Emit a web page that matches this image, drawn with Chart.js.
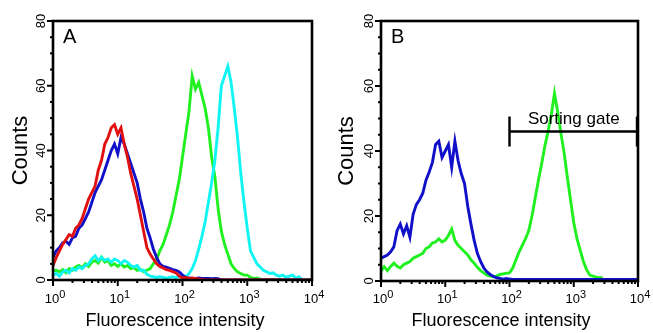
<!DOCTYPE html>
<html>
<head>
<meta charset="utf-8">
<script src="https://cdn.jsdelivr.net/npm/chart.js@4.4.0/dist/chart.umd.min.js"></script>
<style>
  body { margin: 0; background: #fff; }
  #wrap { position: relative; width: 653px; height: 333px; }
  canvas { position: absolute; top: 0; }
</style>
</head>
<body>
<div id="wrap">
  <canvas id="chartA" width="326" height="333" style="left:0"></canvas>
  <canvas id="chartB" width="327" height="333" style="left:326px"></canvas>
</div>
<script>
// channel position = log10(fluorescence intensity)
const channels = [
  0, 0.05, 0.1, 0.15, 0.2, 0.25, 0.3, 0.35, 0.4, 0.45,
  0.5, 0.55, 0.6, 0.65, 0.7, 0.75, 0.8, 0.85, 0.9, 0.95,
  1, 1.05, 1.1, 1.15, 1.2, 1.25, 1.3, 1.35, 1.4, 1.45,
  1.5, 1.55, 1.6, 1.65, 1.7, 1.75, 1.8, 1.85, 1.9, 1.95,
  2, 2.05, 2.1, 2.15, 2.2, 2.25, 2.3, 2.35, 2.4, 2.45,
  2.5, 2.55, 2.6, 2.65, 2.7, 2.75, 2.8, 2.85, 2.9, 2.95,
  3, 3.05, 3.1, 3.15, 3.2, 3.25, 3.3, 3.35, 3.4, 3.45,
  3.5, 3.55, 3.6, 3.65, 3.7, 3.75, 3.8, 3.85, 3.9, 3.95,
  4
]

// panel A
const redA = [
  4.5, 7, 9, 11, 12.5, 14, 13.5, 16, 17, 19,
  22, 25, 27, 29, 34, 37, 42, 44, 47, 48,
  45, 47, 42, 38, 33, 29, 25, 20, 15, 10,
  8, 6.5, 5, 4.2, 3.7, 3.2, 3, 2.6, 2.2, 1.2,
  0.6, 0.8, 0.5, 0.6, 0.5, 0.3, 0.2, 0, 0, 0,
  0, 0, 0, 0, 0, 0, 0, 0, 0, 0,
  0, 0, 0, 0, 0, 0, 0, 0, 0, 0,
  0, 0, 0, 0, 0, 0, 0, 0, 0, 0,
  0
]
const blueA = [
  7, 9, 10, 11.5, 12, 11, 13, 13.5, 16, 17,
  19, 21, 24, 27, 29, 31, 34, 37, 40, 42,
  39, 44, 42, 39, 36, 33, 30, 25, 21, 16,
  13, 9.5, 7, 5, 4.2, 4, 3.6, 3.2, 3, 2.5,
  1.5, 0.8, 0.6, 0.5, 0.5, 0.6, 0.5, 0.5, 0.5, 0.4,
  0.5, 0.4, 0, 0, 0, 0, 0, 0, 0, 0,
  0, 0, 0, 0, 0, 0, 0, 0, 0, 0,
  0, 0, 0, 0, 0, 0, 0, 0, 0, 0,
  0
]
const greenA = [
  2.8, 3, 2.5, 3.2, 2.2, 3.5, 3, 4, 4.5, 3.8,
  5, 4.2, 5.5, 6, 5.2, 7, 5.5, 6, 4.5, 5,
  4.2, 5, 4, 4.5, 3.5, 3.8, 3, 3.3, 2.5, 3,
  3.5, 5, 6.5, 9, 11, 14, 17, 21, 26, 31,
  38, 45, 52, 63, 59, 61, 57, 53, 47, 38,
  32, 22, 15, 11, 8, 5, 3.5, 2.5, 2, 1.5,
  1.5, 0.8, 0.5, 0.6, 0.3, 0, 0, 0, 0, 0,
  0, 0, 0, 0, 0, 0, 0, 0, 0, 0,
  0
]
const cyanA = [
  1.5, 2, 1.2, 2.5, 3, 2.2, 3.5, 3, 4, 3.5,
  4.5, 5, 6.5, 7.5, 6, 7, 6, 6.5, 5.5, 6.5,
  6, 5, 6, 5.5, 4.5, 4, 4.5, 3, 3, 1.8,
  1.2, 1, 0.8, 1, 0.8, 0.6, 0.8, 1, 0.7, 1,
  1.5, 1, 2, 3.5, 6, 9.5, 13.5, 18, 24, 30,
  37, 47, 60, 63, 66, 61, 53, 44, 33, 24,
  16, 9, 7, 5, 4, 3, 2.5, 2, 2.2, 1.5,
  1.2, 1.5, 0.8, 1.2, 1.5, 0.5, 1, 0, 0, 0,
  0
]

// panel B
const blueB = [
  7, 7.5, 8, 9, 10.5, 15.5, 17.5, 14.5, 17, 13.5,
  20.5, 23.5, 25, 27, 31, 33.5, 36.5, 42, 43, 38,
  40, 42, 35, 43, 37, 33, 30, 23, 17.5, 12.5,
  8.5, 6, 4, 2.8, 2, 1.4, 1, 0.8, 0.6, 0.8,
  0.6, 0.5, 0.5, 0.5, 0.5, 0.5, 0.5, 0.5, 0.5, 0.5,
  0.5, 0.5, 0.5, 0.5, 0.5, 0.5, 0.5, 0.5, 0.5, 0.5,
  0.5, 0.5, 0.5, 0.5, 0.5, 0.5, 0.5, 0.5, 0.5, 0.5,
  0.5, 0.5, 0.5, 0.5, 0.5, 0.5, 0.5, 0.5, 0.5, 0.5,
  0.5
]
const greenB = [
  3, 4.4, 3.2, 4.5, 5.5, 4.5, 4, 5, 5.5, 6,
  7, 7.5, 8, 8.5, 10, 10.5, 11.7, 12, 13, 12,
  12.6, 14, 16, 12.5, 11, 10, 9, 8, 6.5, 5.5,
  4.2, 3.2, 2.5, 1.8, 1.5, 1.3, 1.5, 2, 2.2, 2.4,
  2.5, 4, 6.5, 9, 11, 13, 15.5, 20, 25.5, 31,
  36, 41.5, 46, 51, 57.7, 52, 45.5, 39.5, 32, 25,
  18, 13, 9.5, 6, 3.5, 1.8, 1.5, 1.2, 1, 1,
  null, null, null, null, null, null, null, null, null, null,
  null
]

const yMajor = [0, 20, 40, 60, 80]
const decades = [0, 1, 2, 3, 4]
const gateFrom = 2, gateTo = 4, gateLevel = 46

const FONT = "'Liberation Sans', Arial, Helvetica, sans-serif"

function pts(arr) {
  return channels.map((c, i) => ({ x: c, y: arr[i] }))
}

function line(arr, color) {
  return {
    data: pts(arr),
    borderColor: color,
    borderWidth: 2.9,
    pointRadius: 0,
    tension: 0,
    spanGaps: false
  }
}

function framePlugin(letter, withGate) {
  return {
    id: 'frame' + letter,
    afterDatasetsDraw(chart) {
      let ctx = chart.ctx
      let a = chart.chartArea
      let x = chart.scales.x
      let y = chart.scales.y
      ctx.save()
      ctx.strokeStyle = '#000'
      ctx.fillStyle = '#000'

      // box
      ctx.lineWidth = 2.6
      ctx.strokeRect(a.left, a.top, a.right - a.left, a.bottom - a.top)

      // y ticks: major every 20, minor every 5
      ctx.lineWidth = 2
      for (let v = 0; v <= 80; v += 5) {
        let py = y.getPixelForValue(v)
        let len = v % 20 === 0 ? 6 : 3
        ctx.beginPath()
        ctx.moveTo(a.left, py)
        ctx.lineTo(a.left - len, py)
        ctx.stroke()
      }
      // x ticks: decades + log minor ticks
      for (let d = 0; d < decades.length; d++) {
        let px = x.getPixelForValue(decades[d])
        ctx.beginPath()
        ctx.moveTo(px, a.bottom)
        ctx.lineTo(px, a.bottom + 6)
        ctx.stroke()
        if (d < decades.length - 1) {
          for (let k = 2; k <= 9; k++) {
            let mx = x.getPixelForValue(decades[d] + Math.log10(k))
            ctx.beginPath()
            ctx.moveTo(mx, a.bottom)
            ctx.lineTo(mx, a.bottom + 3)
            ctx.stroke()
          }
        }
      }

      // y tick labels (rotated)
      ctx.font = '13px ' + FONT
      ctx.textAlign = 'center'
      ctx.textBaseline = 'alphabetic'
      yMajor.forEach(v => {
        ctx.save()
        ctx.translate(a.left - 8, y.getPixelForValue(v))
        ctx.rotate(-Math.PI / 2)
        ctx.fillText(String(v), 0, 0)
        ctx.restore()
      })

      // x tick labels 10^n
      decades.forEach(d => {
        let px = x.getPixelForValue(d)
        ctx.font = '13px ' + FONT
        let w1 = ctx.measureText('10').width
        ctx.font = '11px ' + FONT
        let w2 = ctx.measureText(String(d)).width
        let start = px - (w1 + w2) / 2 + 2
        ctx.textAlign = 'left'
        ctx.font = '13px ' + FONT
        ctx.fillText('10', start, 303)
        ctx.font = '11px ' + FONT
        ctx.fillText(String(d), start + w1, 298)
      })

      // axis titles
      ctx.font = '22px ' + FONT
      ctx.textAlign = 'center'
      ctx.textBaseline = 'middle'
      ctx.save()
      ctx.translate(20.5, (a.top + a.bottom) / 2)
      ctx.rotate(-Math.PI / 2)
      ctx.fillText('Counts', 0, 0)
      ctx.restore()

      ctx.textBaseline = 'alphabetic'
      ctx.font = '18px ' + FONT
      ctx.fillText('Fluorescence intensity', 175, 326)

      // panel letter
      ctx.textAlign = 'left'
      ctx.font = '20px ' + FONT
      ctx.fillText(letter, a.left + 10, 43)

      if (withGate) {
        let gx1 = x.getPixelForValue(gateFrom)
        let gx2 = x.getPixelForValue(gateTo) - 1
        let gy = y.getPixelForValue(gateLevel)
        ctx.lineWidth = 2.4
        ctx.beginPath()
        ctx.moveTo(gx1, gy)
        ctx.lineTo(gx2, gy)
        ctx.moveTo(gx1, gy - 15)
        ctx.lineTo(gx1, gy + 15)
        ctx.moveTo(gx2, gy - 15)
        ctx.lineTo(gx2, gy + 15)
        ctx.stroke()
        ctx.font = '17px ' + FONT
        ctx.textAlign = 'center'
        ctx.fillText('Sorting gate', x.getPixelForValue((gateFrom + gateTo) / 2), gy - 8)
      }
      ctx.restore()
    }
  }
}

function makeChart(id, datasets, pad, letter, withGate) {
  return new Chart(document.getElementById(id), {
    type: 'line',
    data: { datasets: datasets },
    options: {
      responsive: false,
      animation: false,
      devicePixelRatio: 1,
      layout: { padding: pad },
      plugins: { legend: { display: false }, tooltip: { enabled: false } },
      scales: {
        x: { type: 'linear', min: 0, max: 4, display: false },
        y: { type: 'linear', min: 0, max: 80, display: false }
      }
    },
    plugins: [framePlugin(letter, withGate)]
  })
}

// first dataset is drawn on top
makeChart('chartA', [
  line(redA, '#e01010'),
  line(blueA, '#1010c8'),
  line(cyanA, '#10f4f4'),
  line(greenA, '#20f020')
], { left: 53, right: 14, top: 21, bottom: 53 }, 'A', false)

makeChart('chartB', [
  line(blueB, '#1010c8'),
  line(greenB, '#20f020')
], { left: 55, right: 15, top: 21, bottom: 52 }, 'B', true)
</script>
</body>
</html>
